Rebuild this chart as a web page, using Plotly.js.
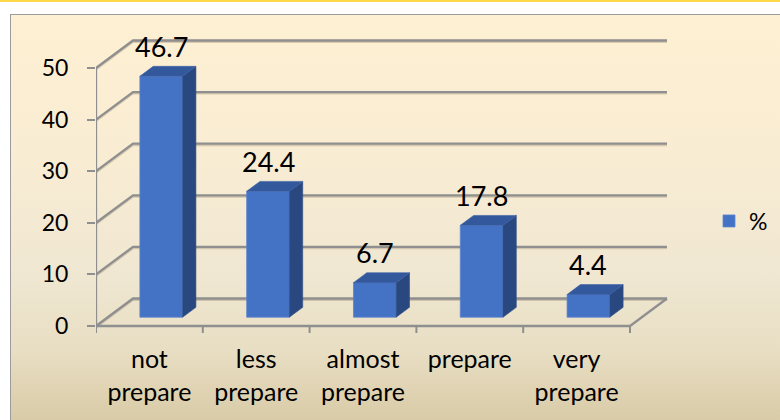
<!DOCTYPE html>
<html>
<head>
<meta charset="utf-8">
<script src="https://cdn.plot.ly/plotly-3.0.1.min.js"></script>
<style>
  html, body { margin: 0; padding: 0; background: #ffffff; }
  #wrap { position: relative; width: 780px; height: 420px; overflow: hidden; }
  #topline { position: absolute; left: 0; top: 0; width: 780px; height: 2px; background: #FFD84C; }
  #bg { position: absolute; left: 10px; top: 14px; width: 780px; height: 420px;
        border-left: 1.5px solid #9b9b9b; border-top: 1.5px solid #9b9b9b;
        background: linear-gradient(to bottom, #FEF0D2 0%, #F8ECD3 35%, #F0E7D2 62%, #E8DEC3 80%, #D6C7A1 100%); }
  #chart { position: absolute; left: 0; top: 0; width: 780px; height: 420px; }
</style>
</head>
<body>
<div id="wrap">
  <div id="topline"></div>
  <div id="bg"></div>
  <div id="chart"></div>
</div>
<script>
// ---- data ----
const categories = ['not<br>prepare', 'less<br>prepare', 'almost<br>prepare', 'prepare', 'very<br>prepare'];
const values = [46.7, 24.4, 6.7, 17.8, 4.4];
const yTicks = [0, 10, 20, 30, 40, 50];
const seriesName = '%';

// ---- pseudo-3D projection (in axis units) ----
const SX = 0.3464;   // x shift for full depth
const SY = 5.33;     // y shift for full depth
const D0 = 0.32, D1 = 0.68;  // bar front/back depth
const HALF = 0.2;    // half bar width
const n = categories.length;
const xL = -0.5, xR = n - 0.5;

const lineColor = '#8f8f8f';
const shapes = [];
function seg(pts, color, width) {
  let p = 'M' + pts.map(q => q[0] + ',' + q[1]).join('L');
  shapes.push({type: 'path', path: p, xref: 'x', yref: 'y', layer: 'below',
               line: {color: color, width: width}});
}
// shadows then lines
yTicks.forEach(v => {
  seg([[xL, v - 0.28], [xL + SX, v + SY - 0.28], [xR + SX, v + SY - 0.28]], 'rgba(150,135,105,0.35)', 2);
});
yTicks.forEach(v => {
  seg([[xL, v], [xL + SX, v + SY], [xR + SX, v + SY]], lineColor, 2.3);
});
seg([[xL, 0], [xR, 0], [xR + SX, SY]], lineColor, 2.3);
seg([[xL, 0], [xL, yTicks[yTicks.length - 1]]], lineColor, 2.3);
for (let b = 0; b <= n; b++) {
  seg([[xL + b, 0], [xL + b, -1.35]], lineColor, 2);
}

const traces = [];
// front faces as a bar trace
traces.push({
  type: 'bar', name: seriesName,
  x: values.map((v, i) => i + D0 * SX),
  y: values,
  base: values.map(() => D0 * SY),
  width: 0.4,
  marker: {color: '#4472C4', line: {color: '#5A85D0', width: 0.8}},
  hoverinfo: 'skip', showlegend: true
});
// side & top faces
values.forEach((v, i) => {
  const xr0 = i + HALF + D0 * SX, xr1 = i + HALF + D1 * SX;
  const xl0 = i - HALF + D0 * SX, xl1 = i - HALF + D1 * SX;
  const b0 = D0 * SY, b1 = D1 * SY;
  traces.push({
    type: 'scatter', mode: 'lines', fill: 'toself', fillcolor: '#2A4880',
    x: [xr0, xr1, xr1, xr0, xr0], y: [b0, b1, v + b1, v + b0, b0],
    line: {color: '#2F4F8C', width: 0.6}, hoverinfo: 'skip', showlegend: false
  });
  traces.push({
    type: 'scatter', mode: 'lines', fill: 'toself', fillcolor: '#34589C',
    x: [xl0, xr0, xr1, xl1, xl0], y: [v + b0, v + b0, v + b1, v + b1, v + b0],
    line: {color: '#3A60A6', width: 0.6}, hoverinfo: 'skip', showlegend: false
  });
});

const annotations = values.map((v, i) => ({
  x: i + D0 * SX, y: v + D1 * SY, xref: 'x', yref: 'y',
  text: v.toFixed(1), showarrow: false, yanchor: 'middle', yshift: 20,
  font: {family: 'Lato, sans-serif', size: 27, color: '#000000'}
}));

const pxPerX = 106.8, pxPerY = 5.16;
const zeroPx = 326;   // pixel row of value 0 (front)
const yMin = -2;
const bottomPx = zeroPx - yMin * pxPerY;
const layout = {
  width: 780, height: 420,
  margin: {l: 0, r: 0, t: 0, b: 0, pad: 0},
  paper_bgcolor: 'rgba(0,0,0,0)', plot_bgcolor: 'rgba(0,0,0,0)',
  showlegend: true,
  legend: {x: 709 / 780, y: 1 - 221 / 420, xanchor: 'left', yanchor: 'middle',
           font: {family: 'Lato, sans-serif', size: 23, color: '#000'},
           bgcolor: 'rgba(0,0,0,0)', borderwidth: 0},
  xaxis: {
    domain: [96 / 780, 1], range: [xL, xL + 684 / pxPerX],
    tickvals: categories.map((c, i) => i), ticktext: categories,
    ticks: '', showline: false, showgrid: false, zeroline: false,
    ticklabelstandoff: 6,
    tickfont: {family: 'Lato, sans-serif', size: 25, color: '#000'}
  },
  yaxis: {
    domain: [(420 - bottomPx) / 420, 1], range: [yMin, zeroPx / pxPerY],
    tickvals: yTicks, ticktext: yTicks.map(String),
    ticks: 'outside', ticklen: 8, tickwidth: 2, tickcolor: lineColor,
    ticklabelstandoff: 14,
    showline: false, showgrid: false, zeroline: false,
    tickfont: {family: 'Lato, sans-serif', size: 23, color: '#000'}
  },
  shapes: shapes,
  annotations: annotations,
  bargap: 0
};

Plotly.newPlot('chart', traces, layout, {staticPlot: true, displayModeBar: false});
</script>
</body>
</html>
